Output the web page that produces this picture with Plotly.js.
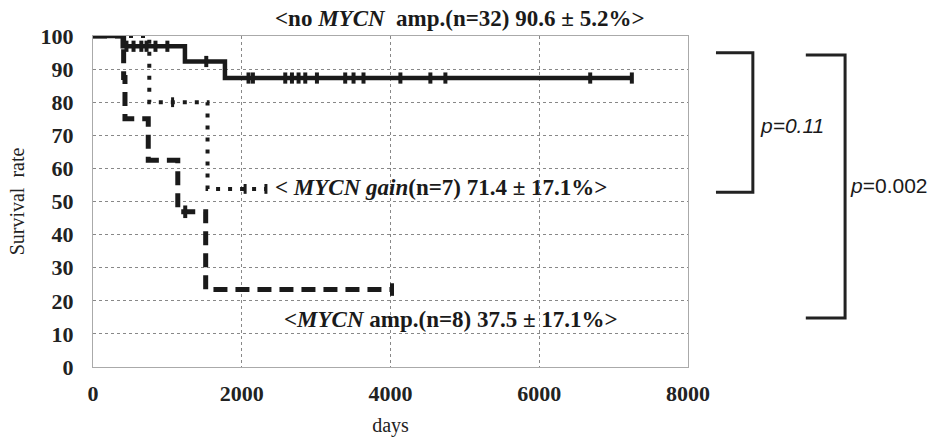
<!DOCTYPE html>
<html>
<head>
<meta charset="utf-8">
<script src="https://cdn.plot.ly/plotly-3.0.1.min.js"></script>
<style>html,body{margin:0;padding:0;background:#fff;}#chart{width:944px;height:437px;}</style>
</head>
<body>
<div id="chart"></div>
<script>
// Kaplan-Meier step curves (days, survival %)
const noAmpDays = [0, 400, 1236, 1774, 7250];
const noAmpSurv = [100, 96.9, 92.3, 87.3, 87.3];
const noAmpCensorDays = [450, 545, 650, 720, 840, 1000, 1523, 2091, 2150, 2585, 2675, 2764, 2854, 3011, 3391, 3503, 3637, 4133, 4536, 4738, 6685, 7245];
const noAmpCensorSurv = [96.9, 96.9, 96.9, 96.9, 96.9, 96.9, 92.3, 87.3, 87.3, 87.3, 87.3, 87.3, 87.3, 87.3, 87.3, 87.3, 87.3, 87.3, 87.3, 87.3, 87.3, 87.3];

const gainDays = [0, 757, 1540, 2325];
const gainSurv = [100, 80, 53.8, 53.8];
const gainCensorDays = [1070, 2045, 2325];
const gainCensorSurv = [80, 53.8, 53.8];

const ampDays = [0, 412, 430, 743, 1140, 1515, 4020];
const ampSurv = [100, 87.5, 75, 62.5, 46.9, 23.4, 23.4];
const ampCensorDays = [1240, 4020];
const ampCensorSurv = [46.9, 23.4];

const xTicks = [0, 2000, 4000, 6000, 8000];
const yTicks = [0, 10, 20, 30, 40, 50, 60, 70, 80, 90, 100];

const labelNoAmp = "&lt;no <i>MYCN</i>  amp.(n=32) 90.6 ± 5.2%&gt;";
const labelGain = "&lt; <i>MYCN gain</i>(n=7) 71.4 ± 17.1%&gt;";
const labelAmp = "&lt;<i>MYCN</i> amp.(n=8) 37.5 ± 17.1%&gt;";
const pLabel1 = "<i>p=0.11</i>";
const pLabel2 = "<i>p</i>=0.002";

const ink = '#1a1a1a';

const traces = [
  {x: gainDays, y: gainSurv, mode: 'lines', line: {shape: 'hv', color: ink, width: 4, dash: '4px,8px'}, cliponaxis: false, hoverinfo: 'skip'},
  {x: gainCensorDays, y: gainCensorSurv, mode: 'markers', marker: {symbol: 'line-ns', size: 7, line: {color: ink, width: 3}}, cliponaxis: false, hoverinfo: 'skip'},
  {x: ampDays, y: ampSurv, mode: 'lines', line: {shape: 'hv', color: ink, width: 5, dash: '14px,8px'}, cliponaxis: false, hoverinfo: 'skip'},
  {x: ampCensorDays, y: ampCensorSurv, mode: 'markers', marker: {symbol: 'line-ns', size: 9, line: {color: ink, width: 4}}, cliponaxis: false, hoverinfo: 'skip'},
  {x: noAmpDays, y: noAmpSurv, mode: 'lines', line: {shape: 'hv', color: ink, width: 4.5}, cliponaxis: false, hoverinfo: 'skip'},
  {x: noAmpCensorDays, y: noAmpCensorSurv, mode: 'markers', marker: {symbol: 'line-ns', size: 8, line: {color: ink, width: 4}}, cliponaxis: false, hoverinfo: 'skip'}
];

const serif = 'Liberation Serif, Times New Roman, serif';
const tickFont = {family: serif, size: 22, weight: 'bold', color: '#222'};
const annFont = {family: serif, size: 23, weight: 'bold', color: ink};
const pFont = {family: 'Liberation Sans, Arial, sans-serif', size: 21, color: ink};

const layout = {
  width: 944, height: 437,
  margin: {l: 93, r: 256, t: 36, b: 70},
  paper_bgcolor: '#fff', plot_bgcolor: '#fff',
  showlegend: false,
  xaxis: {
    range: [0, 8000], tickvals: xTicks, ticktext: xTicks.map(String),
    showgrid: true, gridcolor: '#888', griddash: 'dot', gridwidth: 1,
    zeroline: false, showline: true, linecolor: '#aaa', linewidth: 1, mirror: true,
    ticks: '', ticklabelstandoff: 7,
    tickfont: tickFont,
    title: {text: 'days', font: {family: serif, size: 20, color: '#222'}, standoff: 14}
  },
  yaxis: {
    range: [0, 100], tickvals: yTicks, ticktext: yTicks.map(String),
    showgrid: true, gridcolor: '#888', griddash: 'dot', gridwidth: 1,
    zeroline: false, showline: true, linecolor: '#aaa', linewidth: 1, mirror: true,
    ticks: '', ticklabelstandoff: 14,
    tickfont: tickFont,
    title: {text: 'Survival  rate', font: {family: serif, size: 20, color: '#222'}, standoff: 10}
  },
  annotations: [
    {xref: 'paper', yref: 'paper', x: 0.6176, y: 1.054, xanchor: 'center', yanchor: 'middle', text: labelNoAmp, showarrow: false, font: annFont},
    {xref: 'paper', yref: 'paper', x: 0.302, y: 0.5438, xanchor: 'left', yanchor: 'middle', text: labelGain, showarrow: false, font: annFont},
    {xref: 'paper', yref: 'paper', x: 0.318, y: 0.142, xanchor: 'left', yanchor: 'middle', text: labelAmp, showarrow: false, font: annFont},
    {xref: 'paper', yref: 'paper', x: 1.1176, y: 0.731, xanchor: 'left', yanchor: 'middle', text: pLabel1, showarrow: false, font: pFont},
    {xref: 'paper', yref: 'paper', x: 1.269, y: 0.547, xanchor: 'left', yanchor: 'middle', text: pLabel2, showarrow: false, font: pFont}
  ],
  shapes: [
    {type: 'path', xref: 'paper', yref: 'paper', path: 'M 1.047,0.9495 L 1.109,0.9495 L 1.109,0.5278 L 1.047,0.5278', line: {color: '#222', width: 3}},
    {type: 'path', xref: 'paper', yref: 'paper', path: 'M 1.198,0.9426 L 1.264,0.9426 L 1.264,0.148 L 1.198,0.148', line: {color: '#222', width: 3}}
  ]
};

Plotly.newPlot('chart', traces, layout, {displayModeBar: false, staticPlot: true});
</script>
</body>
</html>
